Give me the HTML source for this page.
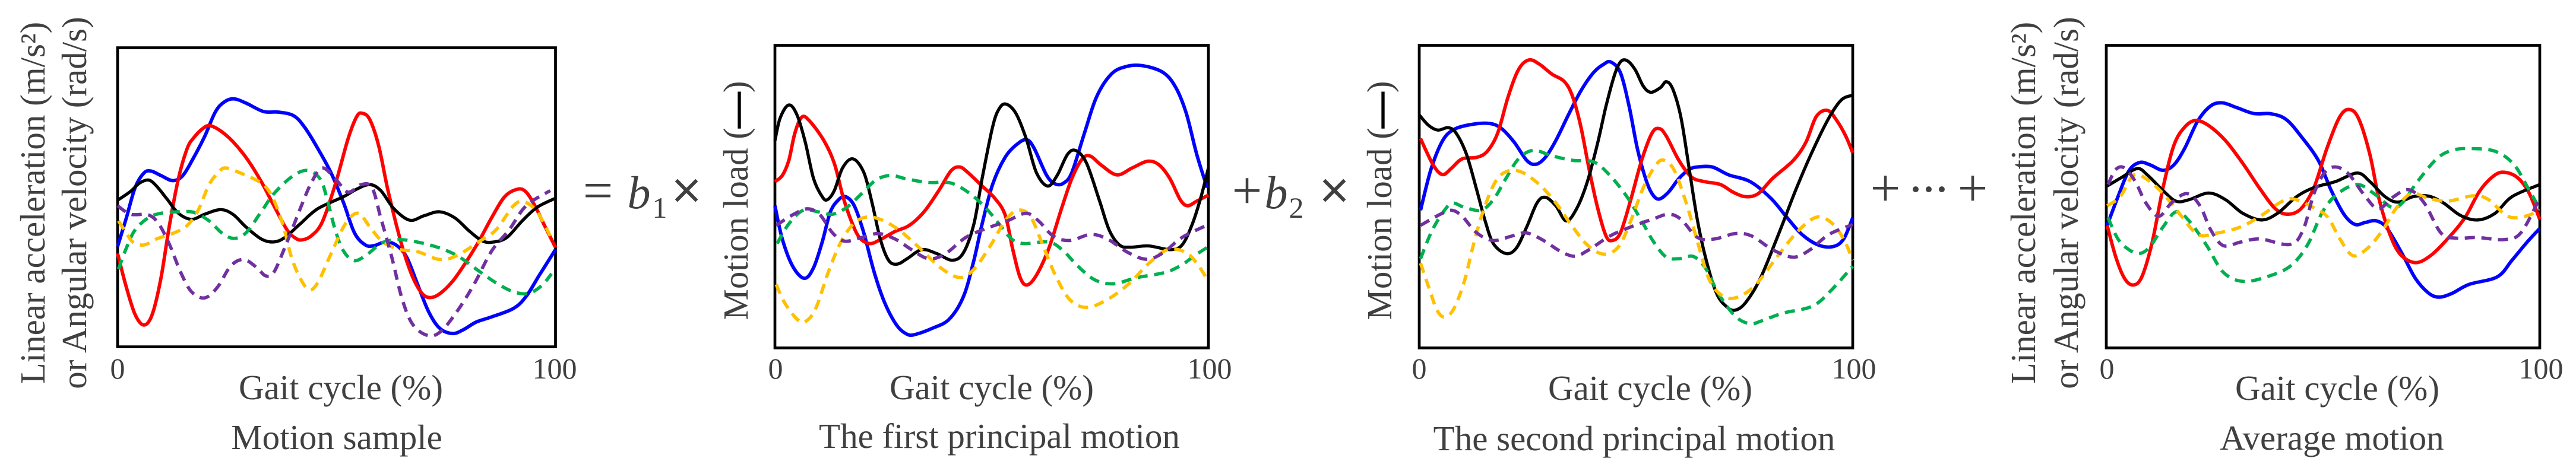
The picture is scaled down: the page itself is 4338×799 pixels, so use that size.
<!DOCTYPE html>
<html lang="en">
<head>
<meta charset="utf-8">
<title>Motion decomposition charts</title>
<style>
html,body{margin:0;padding:0;background:#fff;}
svg{display:block;}
text{font-family:"Liberation Serif","DejaVu Serif",serif;fill:#404040;}
.tick{font-size:50px;text-anchor:middle;}
.xlab{font-size:59px;text-anchor:middle;}
.cap{font-size:59px;text-anchor:middle;}
.ylab{font-size:59px;text-anchor:middle;}
.op{font-size:90px;text-anchor:middle;}
.b{font-size:78px;font-style:italic;text-anchor:middle;}
.sub{font-size:50px;text-anchor:middle;}
</style>
</head>
<body>
<svg id="chart" xmlns="http://www.w3.org/2000/svg" width="4338" height="799" viewBox="0 0 4338 799">
<rect x="0" y="0" width="4338" height="799" fill="#fff"/>
<g id="plots"></g>

<text class="tick" x="198" y="638">0</text>
<text class="tick" x="934" y="638">100</text>
<text class="xlab" x="574" y="673">Gait cycle (%)</text>
<text class="cap" x="567" y="757">Motion sample</text>
<text class="ylab" transform="translate(75 342) rotate(-90)">Linear acceleration (m/s²)</text>
<text class="ylab" transform="translate(145 342) rotate(-90)">or Angular velocity (rad/s)</text>

<text class="tick" x="1306" y="638">0</text>
<text class="tick" x="2037" y="638">100</text>
<text class="xlab" x="1670" y="673">Gait cycle (%)</text>
<text class="cap" x="1683" y="755">The first principal motion</text>
<text class="ylab" transform="translate(1259 338) rotate(-90)">Motion load (<tspan fill="#000" stroke="#000" stroke-width="2.4">—</tspan>)</text>

<text class="tick" x="2390" y="638">0</text>
<text class="tick" x="3122" y="638">100</text>
<text class="xlab" x="2779" y="674">Gait cycle (%)</text>
<text class="cap" x="2752" y="759">The second principal motion</text>
<text class="ylab" transform="translate(2343 338) rotate(-90)">Motion load (<tspan fill="#000" stroke="#000" stroke-width="2.4">—</tspan>)</text>

<text class="tick" x="3548" y="638">0</text>
<text class="tick" x="4279" y="638">100</text>
<text class="xlab" x="3936" y="674">Gait cycle (%)</text>
<text class="cap" x="3927" y="758">Average motion</text>
<text class="ylab" transform="translate(3427 342) rotate(-90)">Linear acceleration (m/s²)</text>
<text class="ylab" transform="translate(3499 342) rotate(-90)">or Angular velocity (rad/s)</text>

<text class="op" x="1007" y="351">=</text>
<text class="b" x="1076" y="351">b</text>
<text class="sub" x="1111" y="367">1</text>
<text class="op" x="1156" y="351" stroke="#404040" stroke-width="1.5">×</text>
<text class="op" x="2100" y="351">+</text>
<text class="b" x="2149" y="351">b</text>
<text class="sub" x="2183" y="367">2</text>
<text class="op" x="2247" y="351" stroke="#404040" stroke-width="1.5">×</text>
<text class="op" x="3175" y="347">+</text>
<text class="op" x="3226 3248 3270" y="347" style="font-size:84px">···</text>
<text class="op" x="3322" y="347">+</text>
</svg>

<script>
// Panel 1: Motion sample
const sampleRedX=[0,2.0,4.0,6.0,7.9,9.9,11.9,13.9,15.9,17.4,19.4,21.1,23.8,26.8,29.8,32.8,35.7,38.7,40.7,42.2,44.2,46.7,49.7,52.6,54.6,55.9,57.6,59.6,61.6,63.6,65.5,67.5,69.5,71.3,73.5,76.5,79.4,82.4,85.4,88.4,91.4,93.3,95.3,97.3,100];
const sampleRedY=[309,197,107,72,107,227,407,557,657,692,722,732,712,672,617,547,467,387,359,354,367,412,537,687,762,773,752,667,527,407,307,227,177,163,175,217,277,347,427,497,522,512,467,407,329];
const sampleBlueX=[0,2.0,4.0,6.0,7.6,9.9,12.6,14.9,17.4,19.9,22.3,24.3,26.5,29.3,33.3,36.7,40.2,42.7,45.7,48.7,51.6,54.1,56.6,58.6,61.1,63.6,66.0,68.5,71.0,73.5,76.5,79.0,81.9,85.4,90.4,93.3,96.3,100];
const sampleBlueY=[332,427,527,575,582,567,550,567,627,697,777,810,821,807,779,777,765,727,657,577,477,377,337,335,347,337,297,207,117,62,44,57,82,99,127,167,237,322];
const sampleBlackX=[0,3.0,5.0,7.1,8.9,11.4,13.9,16.9,19.9,23.5,26.3,29.3,32.8,35.6,38.2,41.7,45.7,51.6,54.6,57.6,60.1,63.1,66.7,70.0,73.5,77.0,80.4,83.4,85.9,88.9,92.4,95.8,100];
const sampleBlackY=[485,515,542,552,532,487,442,422,439,454,439,397,357,347,362,407,457,497,522,537,517,457,419,434,447,427,382,350,347,362,417,462,492];
const sampleGreenX=[0.2,2.0,4.0,7.0,9.9,13.9,17.4,20.9,23.8,26.5,29.3,32.8,35.7,39.7,43.2,46.2,47.7,49.7,51.6,54.1,57.1,60.1,63.1,66.5,72.5,77.5,82.4,86.4,90.4,93.8,96.8,99.1];
const sampleGreenY=[257,327,387,427,442,447,445,417,377,359,377,447,507,562,584,557,497,387,317,285,307,342,354,352,332,302,252,212,182,177,202,242];
const sampleYellowX=[0.2,2.0,3.5,6.0,8.9,12.9,15.9,18.4,20.9,23.3,24.8,27.8,32.8,35.3,37.7,39.7,41.7,43.7,45.7,48.7,51.6,53.6,55.4,57.6,60.6,64.5,68.5,73.5,77.5,82.4,86.4,90.4,92.8,95.8,98.8];
const sampleYellowY=[417,377,347,337,357,377,402,452,537,582,592,577,542,497,407,297,227,189,212,307,397,435,439,397,347,322,315,289,302,347,387,467,480,447,367];
const samplePurpleX=[0,3.0,7.0,9.4,11.9,14.4,16.9,19.9,22.8,25.8,28.8,31.8,33.8,35.7,38.7,41.7,44.2,46.7,49.7,52.6,55.6,58.1,60.1,62.6,65.0,67.5,71.0,73.9,77.5,81.4,85.4,89.4,93.3,98.8];
const samplePurpleY=[467,439,437,407,337,247,182,162,197,267,289,262,235,247,347,457,542,592,557,512,537,527,427,297,157,72,37,52,117,207,317,387,467,517];

// Panel 2: The first principal motion
const firstRedX=[0,1.7,3.2,4.6,6.2,8.0,11.3,13.7,15.7,17.6,19.5,21.9,24.3,27.7,31.0,34.4,37.8,40.6,42.6,44.5,47.8,50.7,53.1,54.8,56.5,58.1,60.3,63.2,66.1,68.5,70.9,72.8,75.2,78.9,82.4,86.0,88.6,91.1,93.5,95.2,97.3,100];
const firstRedY=[550,570,620,710,763,750,685,610,500,420,365,345,358,385,405,450,520,585,598,580,535,495,440,330,235,208,240,330,460,560,625,634,605,572,595,617,605,560,490,470,485,505];
const firstBlueX=[0,1.7,4.1,6.8,8.9,10.9,12.8,14.7,16.3,18.3,20.5,22.9,25.3,28.1,30.5,32.5,36.3,40.2,43.5,45.9,47.8,50.2,53.1,56.0,58.1,59.8,62.7,64.7,66.6,68.5,71.4,74.2,77.6,81.0,84.8,89.6,92.5,94.9,97.3,99.7];
const firstBlueY=[470,360,270,230,265,350,450,490,500,470,380,250,150,75,45,45,65,95,170,290,410,540,630,675,688,660,570,542,545,580,710,830,905,930,933,910,860,775,640,530];
const firstBlackX=[0,1.2,3.2,5.1,7.0,8.9,10.9,12.1,13.7,15.6,18.0,20.5,22.4,24.3,26.2,28.2,30.5,33.9,37.3,40.9,43.5,45.9,47.8,50.2,51.7,53.3,55.6,58.0,60.3,62.9,65.1,67.5,69.5,71.9,74.8,77.1,79.5,81.9,86.3,91.1,93.9,96.3,98.3,100];
const firstBlackY=[685,760,803,770,680,560,500,490,520,595,625,580,480,360,290,277,295,325,312,290,315,410,560,730,790,806,775,690,580,535,570,640,652,610,490,390,340,333,337,325,340,410,500,595];
const firstGreenX=[0.5,3.2,6.5,9.9,13.3,16.6,20.0,23.3,26.7,30.5,35.4,40.6,45.0,48.8,51.7,54.6,57.4,63.2,66.6,69.9,73.8,78.1,83.4,90.1,93.9,96.8,100];
const firstGreenY=[345,410,455,450,442,465,510,555,570,558,547,545,510,460,410,360,345,350,320,270,225,212,232,250,275,305,335];
const firstYellowX=[0.3,2.2,5.1,7.0,9.4,12.3,15.2,18.1,20.9,24.3,28.6,33.4,38.2,42.6,45.9,49.8,53.1,56.0,58.9,61.8,64.7,68.0,71.9,76.7,81.5,86.3,90.6,94.9,97.8,100];
const firstYellowY=[210,150,95,87,130,250,350,410,432,425,390,330,265,233,260,340,420,455,435,340,240,160,134,160,210,280,325,315,270,220];
const firstPurpleX=[0.3,4.1,7.5,10.4,13.3,16.1,20.0,23.8,27.7,31.5,35.4,39.2,44.0,48.8,53.6,57.9,60.8,64.2,68.0,72.8,76.7,81.5,85.8,89.6,93.9,100];
const firstPurpleY=[405,440,460,440,380,353,365,378,360,325,295,310,365,395,420,445,420,370,355,375,360,315,293,315,365,408];

// Panel 3: The second principal motion
const secondRedX=[0.3,3.2,5.4,7.5,9.9,13.3,15.7,18.1,20.5,22.9,25.3,27.7,30.6,33.5,35.4,37.3,39.2,41.2,43.1,44.5,46.4,48.8,51.3,53.7,55.4,57.0,59.9,62.8,65.7,69.5,72.4,75.3,78.2,81.5,86.3,89.2,91.6,94.2,96.4,98.4,100];
const secondRedY=[692,605,573,595,625,630,650,710,830,920,952,938,905,880,830,730,590,460,370,355,380,490,620,710,725,700,620,565,550,540,515,500,510,560,620,680,765,785,750,700,645];
const secondBlueX=[0.3,2.7,5.4,8.0,11.8,16.2,19.0,21.9,24.8,26.9,29.1,31.5,34.4,37.3,40.2,42.6,44.2,46.4,48.4,50.3,52.2,53.7,55.3,57.5,59.9,62.3,64.2,67.6,71.4,76.3,81.1,84.9,88.3,92.1,95.5,97.9,100];
const secondBlueY=[455,590,685,722,738,742,725,680,620,607,630,685,770,850,910,938,945,910,800,660,560,510,492,515,560,590,598,598,572,550,495,430,375,340,335,360,430];
const secondBlackX=[0,2.2,4.3,6.7,8.5,10.9,13.3,15.2,17.1,20.0,22.4,24.8,27.2,29.1,31.5,33.9,36.3,38.8,41.2,43.1,45.0,46.4,47.9,49.8,51.7,53.4,55.6,57.0,58.5,60.4,62.3,64.2,66.2,68.6,71.0,72.9,75.3,78.7,83.0,86.8,90.7,94.5,97.4,100];
const secondBlackY=[770,735,720,728,710,640,520,420,345,312,330,400,480,498,470,420,460,550,680,800,900,945,950,920,865,845,860,880,855,760,590,420,290,180,135,125,150,230,380,520,650,760,820,835];
const secondGreenX=[0.3,2.7,5.1,7.5,10.4,14.2,17.1,20.0,22.9,26.3,30.6,35.4,40.2,44.0,47.9,51.3,54.1,57.0,59.9,63.3,66.2,69.0,72.9,76.3,79.1,83.9,90.7,95.0,100];
const secondGreenY=[295,380,440,478,465,455,490,560,625,653,635,620,615,570,500,420,350,300,295,302,260,180,105,80,90,115,138,190,270];
const secondYellowX=[0.3,2.2,4.1,5.9,8.0,10.4,12.3,14.7,17.6,20.5,23.8,27.7,31.5,34.9,38.8,42.6,46.0,48.8,51.7,54.6,56.5,58.9,61.8,64.2,67.1,70.5,73.8,77.7,82.5,87.3,91.6,95.0,97.9,100];
const secondYellowY=[280,200,125,102,130,220,330,450,550,585,580,540,480,410,340,310,335,420,530,605,620,585,470,350,220,168,170,210,300,385,432,415,360,290];
const secondPurpleX=[0.3,4.6,7.5,9.9,13.3,17.1,21.4,24.8,28.7,32.5,35.9,39.2,44.0,48.8,53.7,57.5,60.4,64.2,68.1,72.9,76.7,81.5,86.3,90.2,94.5,100];
const secondPurpleY=[405,440,455,435,380,355,370,380,355,320,303,325,370,400,425,442,425,365,360,378,370,325,300,325,375,408];

// Panel 4: Average motion
const averageRedX=[0.2,2.2,4.2,6.2,8.2,10.6,13.1,15.6,18.1,20.6,23.6,27.5,31.5,35.5,39.0,41.9,44.9,47.9,50.9,53.9,56.2,58.3,60.8,62.8,65.3,67.8,71.3,74.8,78.7,82.7,86.2,89.7,92.2,95.1,97.6,100];
const averageRedY=[405,300,230,208,235,350,530,670,730,752,735,685,610,525,460,442,460,530,660,765,788,755,640,500,380,310,282,305,360,430,520,572,580,560,510,425];
const averageBlueX=[0.2,2.7,5.2,7.7,10.1,13.1,15.6,18.1,21.1,24.1,26.8,30.0,34.0,38.0,41.5,44.9,48.9,51.9,54.9,57.4,59.8,62.3,64.8,68.3,71.3,74.3,76.7,79.7,83.7,90.2,93.6,97.1,100];
const averageBlueY=[405,500,585,613,605,587,605,660,750,800,810,795,775,774,755,700,620,520,440,408,415,420,395,310,230,182,168,180,210,235,290,350,395];
const averageBlackX=[0.2,3.7,7.2,9.6,13.1,16.1,19.1,23.6,27.5,31.5,35.8,39.5,43.9,47.9,52.9,57.9,60.8,64.3,67.3,70.8,74.3,77.7,81.7,85.7,89.7,93.6,100];
const averageBlackY=[535,565,593,570,520,485,490,512,490,445,423,445,500,530,550,578,550,500,482,500,502,480,438,423,445,500,540];
const averageGreenX=[0.4,2.7,5.2,7.7,10.1,13.1,16.1,19.1,23.1,27.0,31.5,37.0,42.4,46.4,49.9,53.4,57.9,61.8,65.8,68.3,71.8,76.2,79.7,83.7,89.7,94.1,97.6,100];
const averageGreenY=[430,360,325,312,335,400,450,420,340,250,220,235,270,340,450,510,540,510,465,480,550,625,653,659,650,605,520,460];
const averageYellowX=[0.2,3.2,6.2,9.1,13.1,17.1,21.1,25.0,31.0,36.0,40.0,42.9,46.9,50.9,53.9,56.9,60.3,63.8,66.8,70.3,74.3,78.7,84.7,88.2,92.6,96.6,100];
const averageYellowY=[470,500,570,560,510,440,375,378,400,440,480,493,470,435,360,305,330,390,460,510,495,485,503,490,435,435,455];
const averagePurpleX=[0.4,2.2,4.2,6.7,9.1,12.1,15.1,18.6,21.6,24.1,27.0,31.0,35.5,42.4,45.4,47.9,50.4,52.9,55.9,59.8,62.8,66.3,69.8,73.3,77.2,80.7,85.7,91.7,95.6,100];
const averagePurpleY=[540,590,595,550,480,435,480,510,470,390,338,350,360,342,390,510,580,598,575,500,460,500,523,480,380,363,365,358,380,495];

const SVG_NS='http://www.w3.org/2000/svg';
const plots=document.getElementById('plots');

function makeX(left,right){return function(v){return left+(right-left)*v/100;};}
function makeY(top,bottom,yMax){return function(v){return bottom-(bottom-top)*v/yMax;};}

function smoothPath(xs,ys,sx,sy){
  const p=xs.map(function(x,i){return [sx(x),sy(ys[i])];});
  let d='M'+p[0][0].toFixed(1)+' '+p[0][1].toFixed(1);
  for(let i=0;i<p.length-1;i++){
    const a=p[Math.max(i-1,0)],b=p[i],c=p[i+1],e=p[Math.min(i+2,p.length-1)];
    const c1x=b[0]+(c[0]-a[0])/6,c1y=b[1]+(c[1]-a[1])/6;
    const c2x=c[0]-(e[0]-b[0])/6,c2y=c[1]-(e[1]-b[1])/6;
    d+='C'+c1x.toFixed(1)+' '+c1y.toFixed(1)+' '+c2x.toFixed(1)+' '+c2y.toFixed(1)+' '+c[0].toFixed(1)+' '+c[1].toFixed(1);
  }
  return d;
}

const seriesStyles={
  blue:{color:'#0000FF',width:5.8,dash:null},
  red:{color:'#FF0000',width:5.8,dash:null},
  black:{color:'#000000',width:5.3,dash:null},
  green:{color:'#00B050',width:5.6,dash:'17 11'},
  yellow:{color:'#FFC000',width:5.6,dash:'17 11'},
  purple:{color:'#7030A0',width:5.6,dash:'17 11'}
};

function drawPanel(key,left,right,top,bottom,yMax,data){
  const sx=makeX(left,right),sy=makeY(top,bottom,yMax);
  const group=document.createElementNS(SVG_NS,'g');
  
  
  const frame=document.createElementNS(SVG_NS,'rect');
  
  
  frame.setAttribute('x',left);
  frame.setAttribute('y',top);
  frame.setAttribute('width',right-left);
  frame.setAttribute('height',bottom-top);
  frame.setAttribute('fill','none');
  frame.setAttribute('stroke','#000');
  frame.setAttribute('stroke-width','4.7');
  group.appendChild(frame);
  data.forEach(function(s){
    const st=seriesStyles[s.name];
    const path=document.createElementNS(SVG_NS,'path');
    
    
    path.setAttribute('d',smoothPath(s.x,s.y,sx,sy));
    path.setAttribute('fill','none');
    path.setAttribute('stroke',st.color);
    path.setAttribute('stroke-width',st.width);
    path.setAttribute('stroke-linejoin','round');
    if(st.dash){path.setAttribute('stroke-dasharray',st.dash);}
    group.appendChild(path);
  });
  plots.appendChild(group);
}

drawPanel('sample',198,935.5,80.5,584.6,990,[
  {name:'blue',x:sampleBlueX,y:sampleBlueY},
  {name:'red',x:sampleRedX,y:sampleRedY},
  {name:'black',x:sampleBlackX,y:sampleBlackY},
  {name:'green',x:sampleGreenX,y:sampleGreenY},
  {name:'yellow',x:sampleYellowX,y:sampleYellowY},
  {name:'purple',x:samplePurpleX,y:samplePurpleY}
]);
drawPanel('first',1305,2035,76.5,586.5,1000,[
  {name:'blue',x:firstBlueX,y:firstBlueY},
  {name:'red',x:firstRedX,y:firstRedY},
  {name:'black',x:firstBlackX,y:firstBlackY},
  {name:'green',x:firstGreenX,y:firstGreenY},
  {name:'yellow',x:firstYellowX,y:firstYellowY},
  {name:'purple',x:firstPurpleX,y:firstPurpleY}
]);
drawPanel('second',2390,3120,76.5,586.5,1000,[
  {name:'blue',x:secondBlueX,y:secondBlueY},
  {name:'red',x:secondRedX,y:secondRedY},
  {name:'black',x:secondBlackX,y:secondBlackY},
  {name:'green',x:secondGreenX,y:secondGreenY},
  {name:'yellow',x:secondYellowX,y:secondYellowY},
  {name:'purple',x:secondPurpleX,y:secondPurpleY}
]);
drawPanel('average',3547,4277,76.5,586.5,1000,[
  {name:'blue',x:averageBlueX,y:averageBlueY},
  {name:'red',x:averageRedX,y:averageRedY},
  {name:'black',x:averageBlackX,y:averageBlackY},
  {name:'green',x:averageGreenX,y:averageGreenY},
  {name:'yellow',x:averageYellowX,y:averageYellowY},
  {name:'purple',x:averagePurpleX,y:averagePurpleY}
]);
</script>
</body>
</html>
